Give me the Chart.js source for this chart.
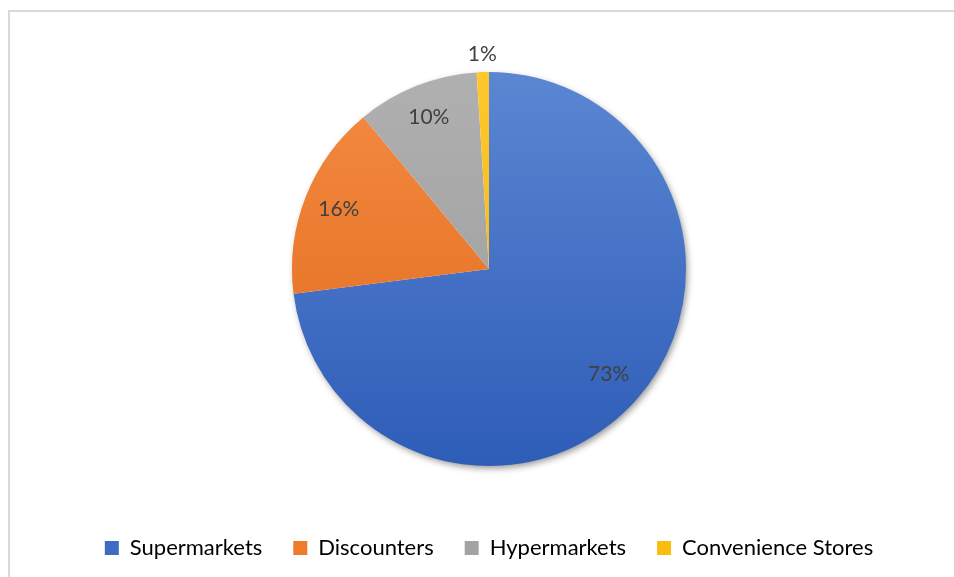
<!DOCTYPE html>
<html>
<head>
<meta charset="utf-8">
<script src="https://cdn.jsdelivr.net/npm/chart.js@4.4.1/dist/chart.umd.min.js"></script>
<style>
  html, body { margin: 0; padding: 0; background: #fff; }
  #wrap { position: relative; width: 954px; height: 577px; }
  canvas { display: block; }
</style>
</head>
<body>
<div id="wrap"><canvas id="pie" width="954" height="577"></canvas></div>
<script>
// Grocery retail channel shares (%)
const channels = ['Supermarkets', 'Discounters', 'Hypermarkets', 'Convenience Stores'];
const shares = [73, 16, 10, 1];

// Office-style palette: light top / dark bottom of each slice
const topColors = ['#5B86D2', '#F48B43', '#B0B0B0', '#FFC72E'];
const bottomColors = ['#2E5DB8', '#E06918', '#9A9A9A', '#F2B400'];
const swatchColors = ['#3F6BC2', '#EE7A2A', '#A3A3A3', '#FBBE10'];

const PIE_RADIUS = 197;

function sliceFill(ctx) {
  const chart = ctx.chart;
  const area = chart.chartArea;
  const i = ctx.dataIndex;
  if (!area) return swatchColors[i];
  const cy = (area.top + area.bottom) / 2;
  const g = chart.ctx.createLinearGradient(0, cy - PIE_RADIUS, 0, cy + PIE_RADIUS);
  g.addColorStop(0, topColors[i]);
  g.addColorStop(1, bottomColors[i]);
  return g;
}

// Frame lines and the soft drop shadow beneath the pie
const framePlugin = {
  id: 'frame',
  beforeDraw(chart) {
    const c = chart.ctx;
    c.save();
    c.strokeStyle = '#D9D9D9';
    c.lineWidth = 2;
    c.beginPath();
    c.moveTo(9, 577);
    c.lineTo(9, 11);
    c.lineTo(954, 11);
    c.stroke();
    c.restore();
  },
  beforeDatasetsDraw(chart) {
    const arc = chart.getDatasetMeta(0).data[0];
    if (!arc) return;
    const c = chart.ctx;
    c.save();
    c.shadowColor = 'rgba(0,0,0,0.45)';
    c.shadowBlur = 7;
    c.shadowOffsetX = 2;
    c.shadowOffsetY = 3;
    c.fillStyle = '#ffffff';
    c.beginPath();
    c.arc(arc.x, arc.y, arc.outerRadius - 1, 0, Math.PI * 2);
    c.fill();
    c.restore();
  }
};

// Percentage labels placed along each slice's middle angle
const labelRadii = [0.81, 0.82, 0.83, 1.09];
const pctLabels = {
  id: 'pctLabels',
  afterDatasetsDraw(chart) {
    const c = chart.ctx;
    const meta = chart.getDatasetMeta(0);
    c.save();
    c.font = '21px Lato';
    c.fillStyle = '#404040';
    c.textAlign = 'center';
    c.textBaseline = 'middle';
    meta.data.forEach((arc, i) => {
      const p = arc.getProps(['x', 'y', 'startAngle', 'endAngle', 'outerRadius'], true);
      const mid = (p.startAngle + p.endAngle) / 2;
      const r = p.outerRadius * labelRadii[i];
      c.fillText(shares[i] + '%', p.x + Math.cos(mid) * r, p.y + Math.sin(mid) * r);
    });
    c.restore();
  }
};

new Chart(document.getElementById('pie'), {
  type: 'pie',
  data: {
    labels: channels,
    datasets: [{
      data: shares,
      backgroundColor: sliceFill,
      borderWidth: 0,
      radius: PIE_RADIUS
    }]
  },
  options: {
    responsive: false,
    animation: false,
    layout: { padding: { top: 32, left: 30, right: 6, bottom: 8 } },
    plugins: {
      tooltip: { enabled: false },
      legend: {
        position: 'bottom',
        labels: {
          boxWidth: 14,
          boxHeight: 14,
          padding: 31,
          color: '#595959',
          font: { family: 'Lato', size: 22 },
          generateLabels(chart) {
            return channels.map((name, i) => ({
              text: name,
              fillStyle: swatchColors[i],
              strokeStyle: swatchColors[i],
              lineWidth: 0,
              hidden: false,
              index: i
            }));
          }
        }
      }
    }
  },
  plugins: [framePlugin, pctLabels]
});
</script>
</body>
</html>
